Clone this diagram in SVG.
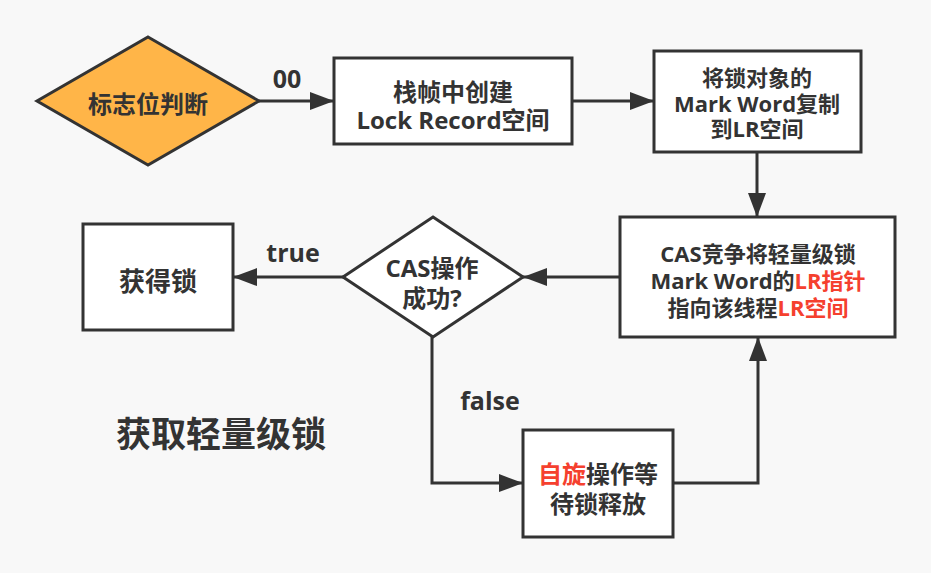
<svg xmlns="http://www.w3.org/2000/svg" width="931" height="573" viewBox="0 0 931 573">
<defs>
<style>
text{font-family:"Open Sans","Noto Sans CJK SC",sans-serif;font-weight:bold;fill:#333333;text-anchor:middle;dominant-baseline:central}
.box{fill:#ffffff;stroke:#333333;stroke-width:3}
.dia{stroke:#333333;stroke-width:3}
.con{fill:none;stroke:#333333;stroke-width:3}
.red{fill:#f5402e}
.t24{font-size:24px}
.t22{font-size:22px}
.lbl{font-size:25px}
</style>
<marker id="arr" markerUnits="userSpaceOnUse" markerWidth="24" markerHeight="18" viewBox="0 0 24 18" refX="24" refY="9" orient="auto">
<path d="M0,0 L24,9 L0,18 Z" fill="#333333"/>
</marker>
</defs>
<rect width="931" height="573" fill="#f8f8f8"/>
<g id="connectors">
<line class="con" x1="259" y1="101" x2="334" y2="101" marker-end="url(#arr)"/>
<line class="con" x1="572" y1="101" x2="654" y2="101" marker-end="url(#arr)"/>
<line class="con" x1="757" y1="152" x2="757" y2="217" marker-end="url(#arr)"/>
<line class="con" x1="620" y1="277" x2="523" y2="277" marker-end="url(#arr)"/>
<line class="con" x1="343" y1="277" x2="233" y2="277" marker-end="url(#arr)"/>
<polyline class="con" points="432,337 432,483 523,483" marker-end="url(#arr)"/>
<polyline class="con" points="673,483 758,483 758,337" marker-end="url(#arr)"/>
<text class="lbl" x="287" y="78">00</text>
<text class="lbl" x="293" y="252">true</text>
<text class="lbl" x="490" y="400">false</text>
</g>
<g id="flag-check">
<polygon class="dia" points="148,37 259,101 148,165 37,101" fill="#ffb548"/>
<text class="t24" x="148" y="103">标志位判断</text>
</g>
<g id="create-lock-record">
<rect class="box" x="334" y="58" width="238" height="86"/>
<text class="t24" x="453" y="91">栈帧中创建</text>
<text class="t24" x="453" y="119">Lock Record空间</text>
</g>
<g id="copy-mark-word">
<rect class="box" x="654" y="51" width="207" height="101"/>
<text class="t22" x="757" y="77">将锁对象的</text>
<text class="t22" x="757" y="103">Mark Word复制</text>
<text class="t22" x="757" y="128">到LR空间</text>
</g>
<g id="cas-compete">
<rect class="box" x="620" y="217" width="275" height="120"/>
<text class="t22" x="758" y="253">CAS竞争将轻量级锁</text>
<text class="t22" x="758" y="280">Mark Word的<tspan class="red">LR指针</tspan></text>
<text class="t22" x="758" y="307">指向该线程<tspan class="red">LR空间</tspan></text>
</g>
<g id="cas-success">
<polygon class="dia" points="433,217 523,277 433,337 343,277" fill="#ffffff"/>
<text class="t24" x="432" y="267">CAS操作</text>
<text class="t24" x="432" y="297">成功?</text>
</g>
<g id="acquire-lock">
<rect class="box" x="83" y="224" width="150" height="106"/>
<text style="font-size:26px" x="158" y="281">获得锁</text>
</g>
<g id="spin-wait">
<rect class="box" x="523" y="430" width="150" height="107"/>
<text class="t24" x="598" y="473"><tspan class="red">自旋</tspan>操作等</text>
<text class="t24" x="598" y="503">待锁释放</text>
</g>
<text x="116" y="433" style="font-size:35px;text-anchor:start">获取轻量级锁</text>
</svg>
